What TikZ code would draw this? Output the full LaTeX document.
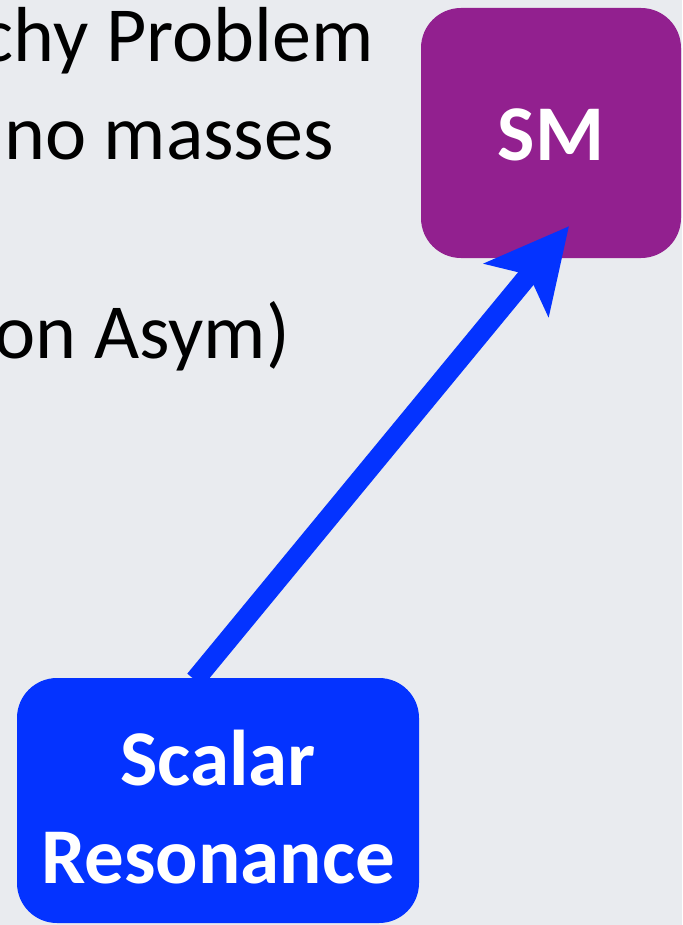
\documentclass[tikz,border=0pt]{standalone}
\usepackage{fontspec}
\setmainfont{Carlito}
\usetikzlibrary{arrows.meta,calc}

\definecolor{slidebg}{HTML}{E9EBEF}
\definecolor{smpurple}{HTML}{92208F}
\definecolor{resblue}{HTML}{0433FF}

\begin{document}
\begin{tikzpicture}[x=1pt,y=-1pt,
  bullettext/.style={inner sep=0pt, text=black, font=\fontsize{78}{98}\selectfont},
  roundbox/.style={rounded corners=40pt, inner sep=0pt},
  boxtext/.style={inner sep=0pt, text=white,
    font=\fontsize{79}{98}\selectfont\bfseries, align=center},
  linkarrow/.style={draw=resblue, line width=20pt,
    -{Stealth[length=82pt, width=82pt, inset=19pt]}}]

  % slide background
  \useasboundingbox (0,0) rectangle (682,925);
  \clip (0,0) rectangle (682,925);
  \fill[slidebg] (0,0) rectangle (682,925);

  % bullet text running off the left edge
  \node[bullettext, anchor=base east] (l1) at (374,62) {chy Problem};
  \node[bullettext, anchor=base east] (l2) at (334,160) {no masses};
  \node[bullettext, anchor=base east] (l3) at (290,358) {on Asym)};

  % target box
  \node[roundbox, fill=smpurple, minimum width=260pt, minimum height=250pt,
    label={[boxtext, yshift=-2pt]center:SM}] (sm) at (551,133) {};
  \coordinate (tip) at ($(sm.south)+(18,-32)$);

  % arrow, drawn under the source box
  \draw[linkarrow] ($(218,678)+(-23,2)$) -- (tip);

  % source box
  \node[roundbox, fill=resblue, minimum width=402pt, minimum height=245pt,
    label={[boxtext, yshift=-7pt]center:{Scalar\\Resonance}}]
    (res) at (218,800.5) {};
\end{tikzpicture}
\end{document}
